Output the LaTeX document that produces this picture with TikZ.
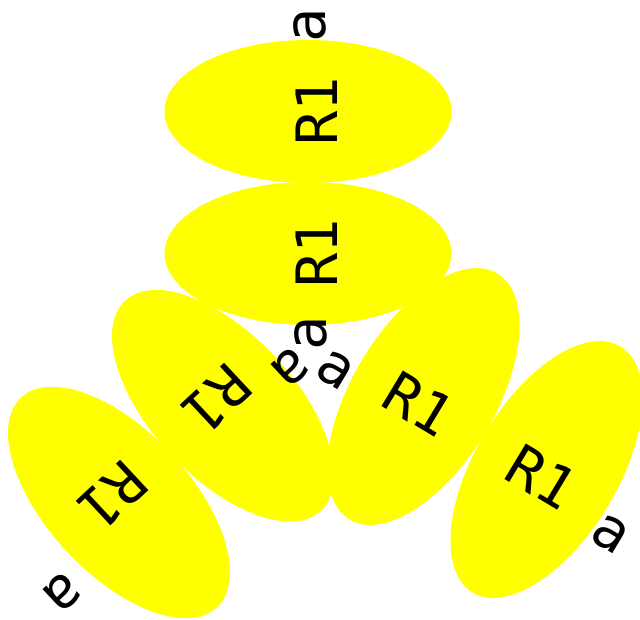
\documentclass[tikz,border=0pt]{standalone}
\usepackage{fontspec}
\usetikzlibrary{shapes.geometric}
\newfontfamily\dvm{DejaVu Sans Mono}
\definecolor{blobyellow}{RGB}{255,255,0}
\begin{document}
\begin{tikzpicture}[x=1pt,y=-1pt,
  blob/.style={ellipse, fill=blobyellow, inner sep=0pt, outer sep=0pt,
    minimum width=143pt, minimum height=287pt,
    font=\dvm\fontsize{57}{57}\selectfont, text height=59pt, text depth=0pt},
  lab/.style={inner sep=0pt, font=\dvm\fontsize{57}{57}\selectfont}]
\useasboundingbox (0,0) rectangle (640,619);
\node[blob, rotate=90]  (e1) at (308,111.5) {R1};
\node[blob, rotate=90]  (e2) at (308,253.5) {R1};
\node[blob, rotate=223] (e3) at (223,405.7) {R1};
\node[blob, rotate=223] (e4) at (119,502.5) {R1};
\node[blob, rotate=-31] (e5) at (423.5,396.5) {R1};
\node[blob, rotate=-31] (e6) at (546.5,469.5) {R1};
\node[lab, rotate=90]  (a1) at (310,25) {a};
\node[lab, rotate=90]  (a2) at (311,333.5) {a};
\node[lab, rotate=223] (a3) at (290.5,367.5) {a};
\node[lab, rotate=-31] (a4) at (335,369.5) {a};
\node[lab, rotate=223] (a5) at (63,592.5) {a};
\node[lab, rotate=-31] (a6) at (610.5,534) {a};
\end{tikzpicture}
\end{document}
